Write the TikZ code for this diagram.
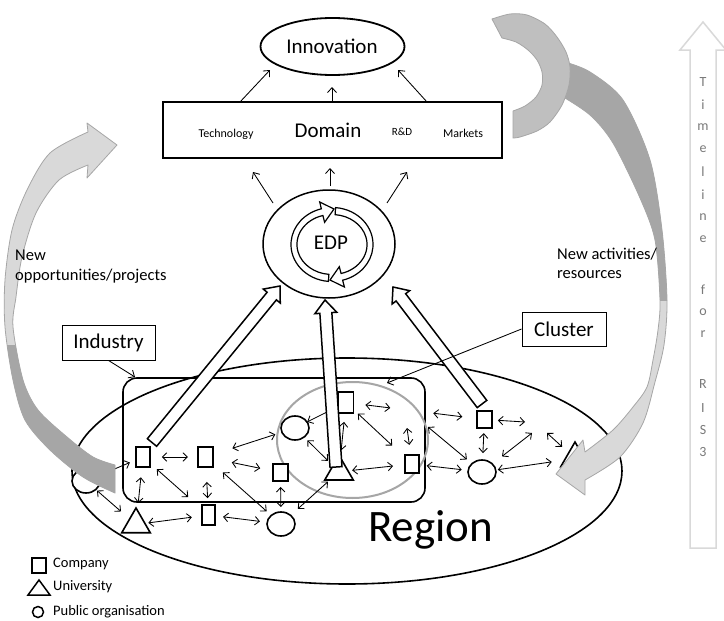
\documentclass[tikz,border=0pt]{standalone}
\usepackage{fontspec}
\setmainfont{Carlito}
\usetikzlibrary{arrows.meta,calc,shapes.geometric}

\definecolor{ribbonlight}{HTML}{D9D9D9}
\definecolor{ribbonedge}{HTML}{A6A6A6}
\definecolor{ribbondark}{HTML}{A6A6A6}
\definecolor{ribbonmid}{HTML}{BFBFBF}
\definecolor{timeedge}{HTML}{D9D9D9}
\definecolor{timetext}{HTML}{7A7A7A}
\definecolor{clustergray}{HTML}{A6A6A6}

% double-headed link drawn along the line between two nodes, from fraction #3 to #4
\newcommand\rislink[4]{\draw[link] ($(#1)!#3!(#2)$) -- ($(#1)!#4!(#2)$);}
% white block arrow from #1 (tail) to #2 (tip)
\newcommand\blockarr[2]{%
  \path ($(#2)!13pt!(#1)$) coordinate (hb);
  \filldraw[blockarrow] ($(#1)!6pt!90:(#2)$) -- ($(hb)!6pt!90:(#2)$) -- ($(hb)!11pt!90:(#2)$) -- (#2)
    -- ($(hb)!11pt!-90:(#2)$) -- ($(hb)!6pt!-90:(#2)$) -- ($(#1)!6pt!-90:(#2)$) -- cycle;}

\tikzset{
  leftribbonpath/.style={insert path={
    plot[smooth] coordinates {(88,132) (50,153) (27,190) (12,230) (5,280) (5,327) (13,380) (25,420) (50,450) (83,477) (115,493)}
    -- plot[smooth] coordinates {(115,465) (93,457) (67,437) (38,410) (23,380) (13,327) (16,297) (22,257) (36,213) (59,180) (88,165)}
    -- (87,178) -- (117,145) -- (87,123) -- cycle}},
  rightribbonpath/.style={insert path={
    plot[smooth] coordinates {(565,62) (590,72) (623,100) (650,160) (662,230) (667,300) (664,345) (655,382) (643,423) (620,457) (585,480)}
    -- (585,495) -- (556,474) -- (583,440)
    -- plot[smooth] coordinates {(585,452) (613,430) (633,407) (647,387) (653,360) (658,330) (660,300) (655,240) (640,198) (613,143) (590,115) (560,95)}
    -- cycle}},
  topribbonpath/.style={insert path={
    plot[smooth] coordinates {(492,19) (510,14) (527,15) (545,24) (557,37) (566,52) (570,67) (569,85) (562,105) (550,122) (537,131) (520,137) (513,138)}
    -- plot[smooth] coordinates {(513,111) (525,106) (536,97) (542,85) (542,72) (537,60) (528,50) (516,42) (502,38)}
    -- cycle}}
}

\begin{document}
\begin{tikzpicture}[x=1pt, y=-1pt,
  company/.style={draw, line width=1.6pt, fill=white, rectangle, inner sep=0pt, minimum width=14pt, minimum height=20pt},
  univ/.style={draw, line width=1.6pt, fill=white, regular polygon, regular polygon sides=3, inner sep=0pt, minimum size=33pt},
  puborg/.style={draw, line width=1.6pt, fill=white, ellipse, inner sep=0pt, minimum width=28pt, minimum height=24pt},
  link/.style={{Straight Barb[length=4.5pt,width=8.5pt]}-{Straight Barb[length=4.5pt,width=8.5pt]}, line width=0.85pt},
  pointer/.style={-{Straight Barb[length=5pt,width=9pt]}, line width=0.85pt},
  blockarrow/.style={draw, fill=white, line width=1.5pt, line join=miter},
  labelbox/.style={draw, line width=0.9pt, inner sep=0pt, font=\fontsize{21}{25}\selectfont},
  bigtext/.style={font=\fontsize{21}{25}\selectfont, inner sep=0pt},
  smalltext/.style={font=\fontsize{12}{14}\selectfont, inner sep=0pt},
  sidetext/.style={font=\fontsize{16.5}{20}\selectfont, inner sep=0pt, align=left, anchor=base west},
  timeletter/.style={text=timetext, font=\fontsize{14}{16}\selectfont, inner sep=0pt},
  legendtext/.style={anchor=west, font=\fontsize{14.5}{17}\selectfont, inner sep=0pt},
]
\useasboundingbox (0,0) rectangle (724,621);
\fill[white] (0,0) rectangle (724,621);

% ---------- region, industry and cluster ----------
\node[draw, ellipse, line width=1.6pt, minimum width=550pt, minimum height=226pt, inner sep=0pt] (region) at (347,471) {};
\node[font=\fontsize{45}{50}\selectfont, anchor=base west, inner sep=0pt] (regionlabel) at (368,541) {Region};
\node[draw, rounded corners=14pt, line width=1.6pt, minimum width=302pt, minimum height=124pt, inner sep=0pt] (industry) at (274,440) {};
\node[draw=clustergray, ellipse, line width=2pt, minimum width=151pt, minimum height=116pt, inner sep=0pt] (cluster) at (352.5,440) {};

% ---------- actors ----------
\node[company, minimum width=14pt, minimum height=20pt] (A) at (143,457) {};
\node[company, minimum width=15pt, minimum height=20pt] (B) at (205.5,457) {};
\node[company, minimum width=15pt, minimum height=17pt] (C) at (280.5,472.5) {};
\node[company, minimum width=13pt, minimum height=20pt] (D) at (208.5,515) {};
\node[company, minimum width=15pt, minimum height=21pt] (E) at (346,402.5) {};
\node[company, minimum width=14pt, minimum height=18pt] (F) at (412,464) {};
\node[company, minimum width=15pt, minimum height=17pt] (G) at (484.5,419.5) {};
\node[puborg] (O0) at (86,481) {};
\node[puborg] (O1) at (281,524) {};
\node[puborg] (O2) at (295,428) {};
\node[puborg] (O3) at (482,472) {};
\node[univ] (T1) at (136,524.5) {};
\node[univ] (T2) at (339,471.75) {};
\node[univ] (T3) at (575,458.5) {};

% ---------- links between actors ----------
\rislink{A}{B}{0.30}{0.72}
\rislink{A}{T1}{0.30}{0.68}
\rislink{A}{D}{0.21}{0.69}
\rislink{O0}{A}{0.25}{0.77}
\rislink{O0}{T1}{0.22}{0.70}
\rislink{T1}{D}{0.17}{0.77}
\rislink{B}{D}{0.43}{0.71}
\rislink{D}{O1}{0.20}{0.71}
\rislink{B}{O1}{0.23}{0.81}
\rislink{B}{C}{0.35}{0.73}
\rislink{B}{O2}{0.30}{0.78}
\rislink{C}{O1}{0.28}{0.67}
\rislink{O1}{T2}{0.29}{0.81}
\rislink{O2}{T2}{0.28}{0.75}
\rislink{O2}{E}{0.24}{0.78}
\rislink{E}{T2}{0.28}{0.69}
\rislink{T2}{F}{0.18}{0.74}
\rislink{E}{G}{0.14}{0.32}
\rislink{E}{G}{0.63}{0.84}
\rislink{E}{F}{0.18}{0.70}
\rislink{F}{O3}{0.21}{0.71}
\rislink{G}{O3}{0.26}{0.64}
\rislink{O3}{T3}{0.17}{0.75}
\coordinate (u1) at (407,428);
\coordinate (u2) at (428,427);
\coordinate (u3) at (525,422);
\coordinate (u4) at (532,433);
\coordinate (u5) at (547,433);
\draw[link] (u1) -- ($(u1)!0.47!(F)$);
\draw[link] (u2) -- ($(u2)!0.72!(O3)$);
\draw[link] ($(G)!0.33!(u3)$) -- (u3);
\draw[link] ($(O3)!0.4!(u4)$) -- (u4);
\draw[link] (u5) -- ($(u5)!0.54!(T3)$);

% ---------- block arrows towards the EDP ----------
\coordinate (ba1s) at (152,442.5);
\coordinate (ba1e) at (280,286);
\coordinate (ba2s) at (336,467);
\coordinate (ba2e) at (325,300);
\coordinate (ba3s) at (482,404);
\coordinate (ba3e) at (393,287);
\blockarr{ba1s}{ba1e}
\blockarr{ba2s}{ba2e}
\blockarr{ba3s}{ba3e}

% ---------- grey curved arrows ----------
\filldraw[fill=ribbonlight, draw=ribbonedge, line width=0.8pt, line join=round, leftribbonpath];
\begin{scope}
  \clip (0,345) rectangle (130,500);
  \fill[ribbondark, leftribbonpath];
\end{scope}
\filldraw[fill=ribbonlight, draw=ribbonedge, line width=0.8pt, line join=round, rightribbonpath];
\begin{scope}
  \clip (540,0) rectangle (690,300);
  \fill[ribbondark, rightribbonpath];
\end{scope}
\filldraw[fill=ribbonmid, draw=ribbonedge, line width=0.8pt, line join=round, topribbonpath];

% ---------- innovation, domain, EDP ----------
\node[draw, ellipse, line width=1.8pt, minimum width=144pt, minimum height=57pt, inner sep=0pt] (innovation) at (332.5,46.5) {};
\node[bigtext] (innovationlabel) at (332,46) {Innovation};
\node[draw, line width=1.8pt, minimum width=339pt, minimum height=56pt, inner sep=0pt] (domain) at (332.5,130) {};
\node[bigtext] (domainlabel) at (328,130) {Domain};
\node[smalltext] (tech) at (226,134) {Technology};
\node[font=\fontsize{11}{13}\selectfont, inner sep=0pt] (rnd) at (402,132) {R\&D};
\node[smalltext] (markets) at (463,133) {Markets};

\node[draw, ellipse, line width=1.5pt, minimum width=132pt, minimum height=108pt, inner sep=0pt] (edp) at (329,244) {};
\node[bigtext] (edplabel) at (331,243) {EDP};
\filldraw[fill=white, line width=1.2pt, line join=miter]
  (328.4,281.4) arc[start angle=95, end angle=255, x radius=41, y radius=37]
  -- (319.7,202) -- (334,209) -- (324.6,222.3) -- (322.9,215.5)
  arc[start angle=255, end angle=95, x radius=35, y radius=30] -- cycle;
\filldraw[fill=white, line width=1.2pt, line join=miter]
  (335.6,207.6) arc[start angle=275, end angle=435, x radius=41, y radius=37]
  -- (344.4,287) -- (330,280) -- (339.3,266.7) -- (341.1,273.5)
  arc[start angle=435, end angle=275, x radius=35, y radius=30] -- cycle;

% domain -> innovation
\coordinate (di1s) at (240,102); \coordinate (di1e) at (270,70);
\coordinate (di2s) at (332,102); \coordinate (di2e) at (332,87);
\coordinate (di3s) at (427,102); \coordinate (di3e) at (398,70);
\draw[pointer] (di1s) -- (di1e);
\draw[pointer] (di2s) -- (di2e);
\draw[pointer] (di3s) -- (di3e);
% EDP -> domain
\coordinate (ed1s) at (273,203); \coordinate (ed1e) at (253,172);
\coordinate (ed2s) at (330,186); \coordinate (ed2e) at (330,168);
\coordinate (ed3s) at (387,203); \coordinate (ed3e) at (407,172);
\draw[pointer] (ed1s) -- (ed1e);
\draw[pointer] (ed2s) -- (ed2e);
\draw[pointer] (ed3s) -- (ed3e);

% ---------- labels ----------
\node[labelbox, minimum width=93pt, minimum height=35pt] (indlabel) at (108.5,342.5) {Industry};
\node[labelbox, minimum width=84pt, minimum height=34pt] (clulabel) at (564,329) {Cluster};
\coordinate (indpt) at (135,377);
\coordinate (clupt) at (387,383);
\draw[pointer] (indlabel.south) -- (indpt);
\draw[pointer] (clulabel.west) -- (clupt);

\node[sidetext] (newopp) at (15,280) {New\\[-0.5pt]opportunities/projects};
\node[sidetext] (newact) at (557,278) {New activities/\\[-1.5pt]resources};

% ---------- timeline ----------
\filldraw[fill=white, draw=timeedge, line width=1.5pt, line join=miter]
  (690,548) -- (690,50) -- (680,50) -- (703,22) -- (726,50) -- (716,50) -- (716,548) -- cycle;
\foreach \ch/\yy [count=\k] in {T/82, i/104.5, m/127, e/149.5, l/172, i/194.5, n/217, e/239.5,
                                f/290, o/312, r/334, R/384, I/408, S/430, 3/452}
  \node[timeletter] (tl\k) at (703,\yy) {\ch};

% ---------- legend ----------
\node[draw, line width=1.5pt, minimum width=14pt, minimum height=15pt, inner sep=0pt] (legco) at (39,565.5) {};
\draw[line width=1.5pt, line join=miter] (28,595) -- (50,595) -- (39,580) -- cycle;
\node[draw, circle, line width=1.5pt, minimum size=11pt, inner sep=0pt] (legpo) at (38,612) {};
\node[legendtext] (legcotext) at (53,564) {Company};
\node[legendtext] (leguntext) at (53,587) {University};
\node[legendtext] (legpotext) at (53,612) {Public organisation};
\end{tikzpicture}
\end{document}
